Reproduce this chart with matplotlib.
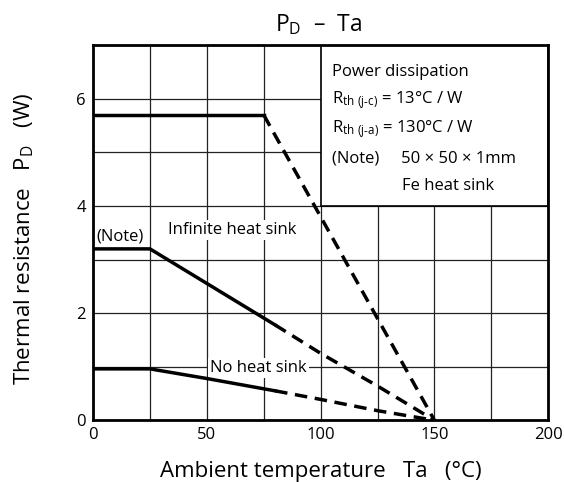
import numpy as np
import matplotlib.pyplot as plt
from matplotlib.patches import Rectangle

plt.rcParams['font.family'] = ['Open Sans', 'DejaVu Sans']
plt.rcParams['mathtext.fontset'] = 'custom'
plt.rcParams['mathtext.rm'] = 'Open Sans'
plt.rcParams['mathtext.it'] = 'Open Sans'

# curves (Ta in degC, PD in W)
inf_solid_x = [0, 75]
inf_solid_y = [5.7, 5.7]
inf_dash_x = [75, 150]
inf_dash_y = [5.7, 0]

note_solid_x = [0, 25, 80]
note_solid_y = [3.2, 3.2, 1.78]
note_dash_x = [80, 100, 125, 150]
note_dash_y = [1.78, 1.25, 0.64, 0]

none_solid_x = [0, 25, 50, 80]
none_solid_y = [0.96, 0.96, 0.78, 0.55]
none_dash_x = [80, 100, 125, 150]
none_dash_y = [0.55, 0.39, 0.18, 0]

x_ticks = [0, 50, 100, 150, 200]
y_ticks = [0, 2, 4, 6]

info_lines = ['Power dissipation',
              r'R$_{\mathrm{th\ (j‐c)}}$ = 13°C / W',
              r'R$_{\mathrm{th\ (j‐a)}}$ = 130°C / W',
              '(Note)     50 × 50 × 1mm']

fig = plt.figure(figsize=(5.64, 4.82), dpi=100)
ax = fig.add_axes([0.165, 0.128, 0.807, 0.778])

ax.set_xlim(0, 200)
ax.set_ylim(0, 7)
ax.set_xticks(x_ticks)
ax.set_yticks(y_ticks)
ax.set_xticks(np.arange(0, 201, 25), minor=True)
ax.set_yticks(np.arange(0, 8, 1), minor=True)
ax.grid(which='both', color='#222222', linewidth=0.9, zorder=1)
ax.set_axisbelow(True)
ax.tick_params(which='both', length=0, labelsize=12, pad=5)
for s in ax.spines.values():
    s.set_linewidth(2)

# white box for the spec text, upper right
ax.add_patch(Rectangle((100, 4), 100, 3, facecolor='white', edgecolor='black',
                       linewidth=1.2, zorder=1.5))

dash = (0, (3.6, 2.2))
lw = 2.5
ax.plot(inf_solid_x, inf_solid_y, color='black', lw=lw, zorder=3)
ax.plot(inf_dash_x, inf_dash_y, color='black', lw=lw, linestyle=dash, zorder=3)
ax.plot(note_solid_x, note_solid_y, color='black', lw=lw, zorder=3)
ax.plot(note_dash_x, note_dash_y, color='black', lw=lw, linestyle=dash, zorder=3)
ax.plot(none_solid_x, none_solid_y, color='black', lw=lw, zorder=3)
ax.plot(none_dash_x, none_dash_y, color='black', lw=lw, linestyle=dash, zorder=3)

wb = dict(facecolor='white', edgecolor='none', pad=1.5)
ax.text(1.5, 3.43, '(Note)', fontsize=12, va='center', ha='left', bbox=wb, zorder=2)
ax.text(33, 3.56, 'Infinite heat sink', fontsize=12, va='center', ha='left', bbox=wb, zorder=2)
ax.text(51.5, 0.98, 'No heat sink', fontsize=12, va='center', ha='left', bbox=wb, zorder=2)

for i, t in enumerate(info_lines):
    ax.text(104.8, 6.51 - i * 0.54, t, fontsize=12, va='center', ha='left', zorder=4)
ax.text(135.8, 4.38, 'Fe heat sink', fontsize=12, va='center', ha='left', zorder=4)

fig.text(0.565, 0.936, r'P$_\mathrm{D}$  –  Ta', fontsize=16.5, ha='center', va='baseline')
ax.set_xlabel('Ambient temperature   Ta   (°C)', fontsize=16, va='baseline')
ax.xaxis.set_label_coords(0.5, -0.152)
ax.set_ylabel(r'Thermal resistance   P$_\mathrm{D}$   (W)', fontsize=16, va='center')
ax.yaxis.set_label_coords(-0.152, 0.485)

fig.savefig('out.png', dpi=100)
